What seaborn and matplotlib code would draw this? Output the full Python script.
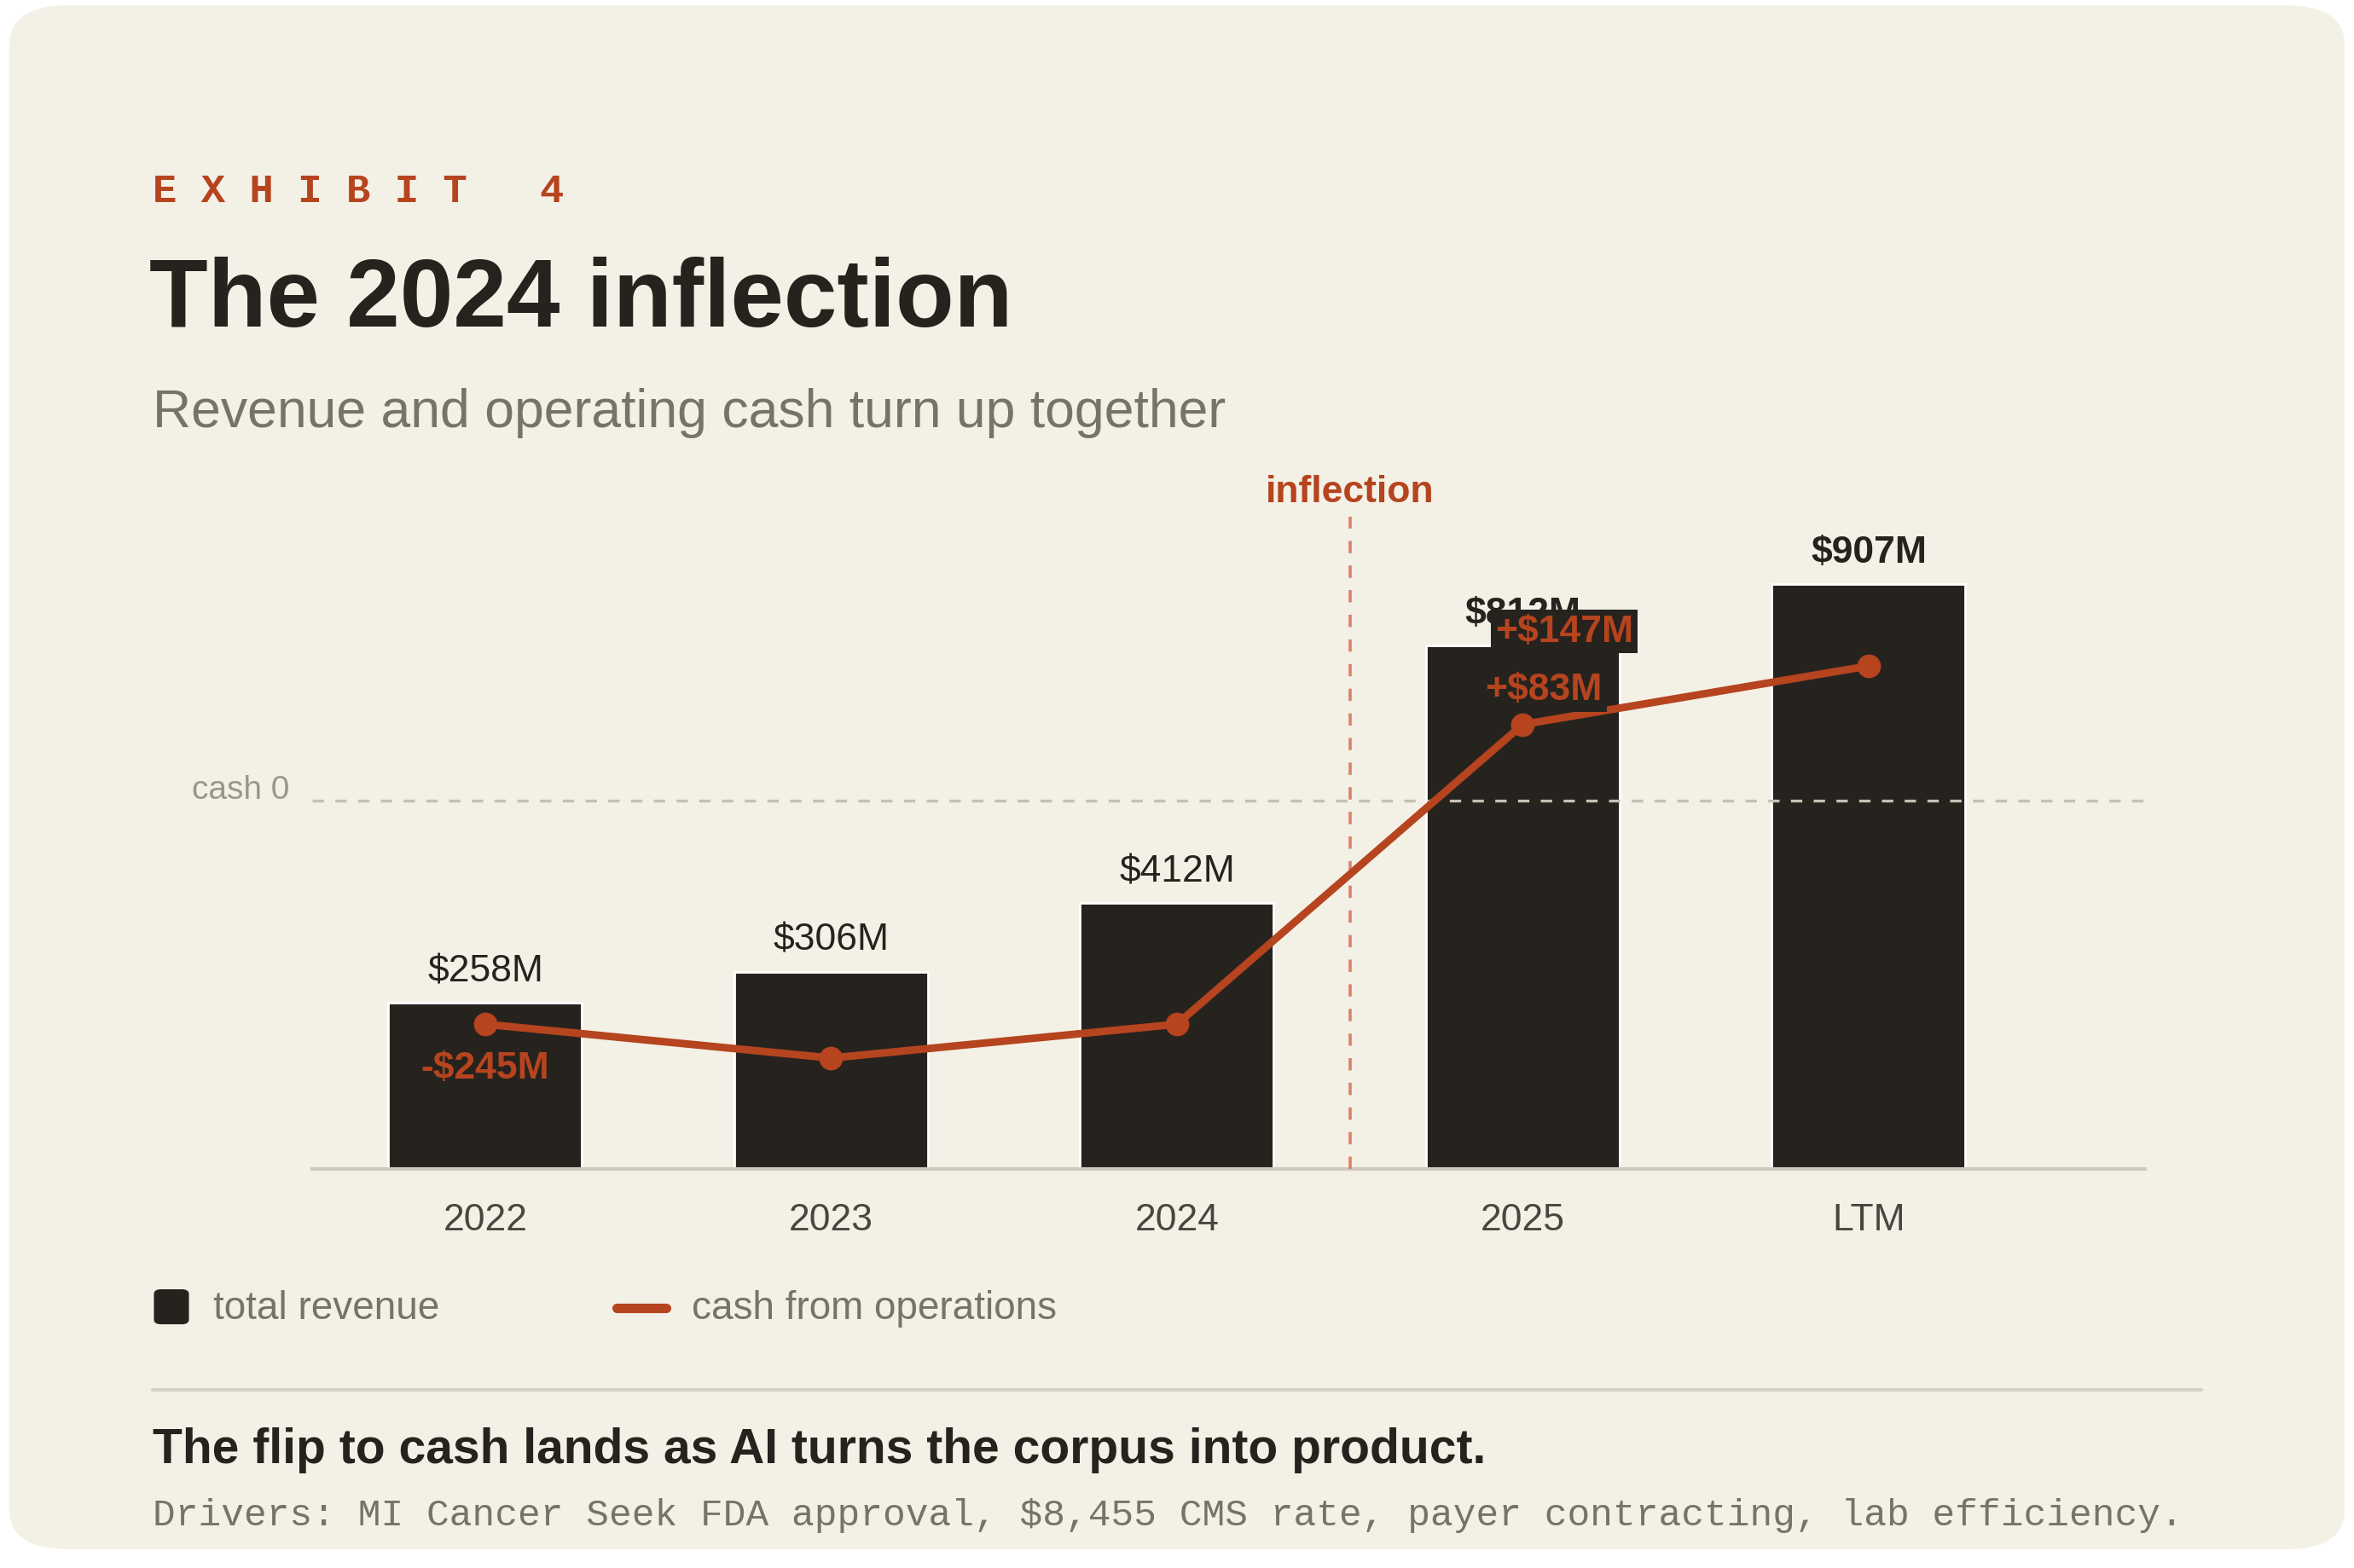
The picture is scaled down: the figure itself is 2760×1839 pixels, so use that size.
import numpy as np
import matplotlib.pyplot as plt
import seaborn as sns
from matplotlib.patches import FancyBboxPatch
from matplotlib.lines import Line2D

years = ["2022", "2023", "2024", "2025", "LTM"]
revenue = [258, 306, 412, 812, 907]
cash = [-245, -282, -245, 83, 147]
rev_labels = ["$258M", "$306M", "$412M", "$812M", "$907M"]

BG = "#f3f0e6"
DARK = "#26231e"
RUST = "#b5441f"
GREY = "#77736a"

sns.set_theme(style="white")
plt.rcParams['font.family'] = ['Liberation Sans', 'DejaVu Sans']

W, H = 1545, 1030
fig = plt.figure(figsize=(13.8, 9.2), dpi=200, facecolor="white")

def fx(px): return px / W
def fy(py): return 1 - py / H

card = FancyBboxPatch((0.004, 0.012), 0.992, 0.984, boxstyle="round,pad=0,rounding_size=0.025",
                      transform=fig.transFigure, facecolor=BG, edgecolor="none", zorder=-10)
fig.patches.append(card)

ax = fig.add_axes([fx(205), fy(768), fx(1408) - fx(205), fy(330) - fy(768)])
ax.patch.set_alpha(0)
df_x = np.arange(len(years))
sns.barplot(x=years, y=revenue, ax=ax, color=DARK, width=0.56, saturation=1, zorder=2)
ax.set_xlim(-0.5, 4.8)
ax.set_ylim(0, 438 / 0.4234)
ax.set_yticks([])
ax.set_xlabel("")
for s in ["top", "left", "right"]:
    ax.spines[s].set_visible(False)
ax.spines["bottom"].set_color("#cfcabd")
ax.spines["bottom"].set_linewidth(1.5)
ax.tick_params(axis="x", length=0, pad=14, labelsize=16, labelcolor="#4a463f")
for i, (v, lab) in enumerate(zip(revenue, rev_labels)):
    bold = i >= 3
    ax.text(i, v + 22, lab, ha="center", va="bottom", fontsize=16,
            fontweight="bold" if bold else "normal", color=DARK)

ax2 = ax.twinx()
ax2.set_ylim(-242 / 0.6, (438 - 242) / 0.6)
ax2.axis("off")
ax2.axhline(0, color="#c5c0b3", ls=(0, (4, 4)), lw=1.2, zorder=1)
ax2.axvline(2.5, ymin=0, ymax=(768 - 340) / 438, color="#d9826a", ls=(0, (4, 4)), lw=1.3)
sns.lineplot(x=df_x, y=cash, ax=ax2, color=RUST, lw=3.2, marker="o", markersize=10,
             markeredgewidth=0, zorder=4)
ax2.text(0, cash[0] - 48, "-$245M", ha="center", va="center", fontsize=16,
         fontweight="bold", color=RUST)
ax2.text(3.06, cash[3] + 38, "+$83M", ha="center", va="center", fontsize=16,
         fontweight="bold", color=RUST, zorder=5,
         bbox=dict(facecolor=DARK, edgecolor="none", pad=2))
ax2.text(3.12, cash[4] + 38, "+$147M", ha="center", va="center", fontsize=16,
         fontweight="bold", color=RUST, zorder=5,
         bbox=dict(facecolor=DARK, edgecolor="none", pad=2))

fig.text(fx(190), fy(519), "cash 0", ha="right", va="center", fontsize=14, color="#9a968b")
fig.text(fx(886), fy(323), "inflection", ha="center", va="center", fontsize=16,
         fontweight="bold", color=RUST)

fig.text(fx(100), fy(126), "E X H I B I T   4", ha="left", va="center", fontsize=17,
         fontweight="bold", color=RUST, family=["Liberation Mono", "DejaVu Sans Mono"])
fig.text(fx(98), fy(198), "The 2024 inflection", ha="left", va="center", fontsize=40.5,
         fontweight="bold", color=DARK)
fig.text(fx(100), fy(271), "Revenue and operating cash turn up together", ha="left",
         va="center", fontsize=22.5, color=GREY)

# legend
fig.patches.append(FancyBboxPatch((fx(101), fy(870)), fx(23), fy(847) - fy(870),
                                  boxstyle="round,pad=0,rounding_size=0.003",
                                  transform=fig.transFigure, facecolor=DARK, edgecolor="none"))
fig.text(fx(140), fy(859), "total revenue", ha="left", va="center", fontsize=16.5, color=GREY)
fig.lines.append(Line2D([fx(405), fx(437)], [fy(859), fy(859)], transform=fig.transFigure,
                        color=RUST, lw=4))
fig.text(fx(454), fy(859), "cash from operations", ha="left", va="center", fontsize=16.5, color=GREY)

fig.lines.append(Line2D([fx(100), fx(1445)], [fy(913), fy(913)], transform=fig.transFigure,
                        color="#d6d1c4", lw=1.5))
fig.text(fx(100), fy(952), "The flip to cash lands as AI turns the corpus into product.",
         ha="left", va="center", fontsize=20.5, fontweight="bold", color=DARK)
fig.text(fx(100), fy(995),
         "Drivers: MI Cancer Seek FDA approval, $8,455 CMS rate, payer contracting, lab efficiency.",
         ha="left", va="center", fontsize=16, color=GREY,
         family=["Liberation Mono", "DejaVu Sans Mono"])

fig.savefig("out.png", dpi=200, facecolor="white")
